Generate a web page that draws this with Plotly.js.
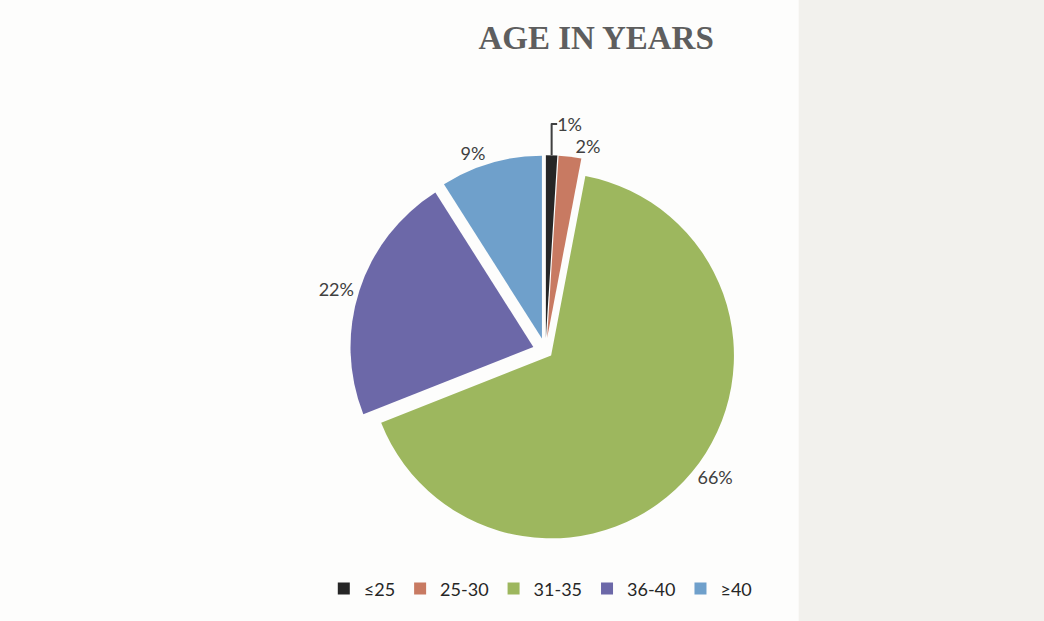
<!DOCTYPE html>
<html>
<head>
<meta charset="utf-8">
<script src="https://cdn.plot.ly/plotly-3.0.1.min.js"></script>
<style>html,body{margin:0;padding:0;background:#fff;}#chart{width:1044px;height:621px;}</style>
</head>
<body>
<div id="chart"></div>
<script>
const categories = ["≤25", "25-30", "31-35", "36-40", "≥40"];
const shares = [1, 2, 66, 22, 9];
const sliceColors = ["#262626", "#c87a62", "#9db75e", "#6c68a8", "#6fa0cb"];

const trace = {
  type: "pie",
  labels: categories,
  values: shares,
  sort: false,
  direction: "clockwise",
  rotation: 0,
  pull: [0.07, 0.07, 0.04, 0.07, 0.07],
  marker: { colors: sliceColors, line: { color: "#ffffff", width: 0 } },
  texttemplate: "%{percent:.0%}",
  textposition: "outside",
  textfont: { family: "Lato, 'Open Sans', sans-serif", size: 18, color: "#404040" },
  outsidetextfont: { family: "Lato, 'Open Sans', sans-serif", size: 18, color: "#404040" },
  hoverinfo: "label+percent",
  domain: { x: [0.30, 0.745], y: [0.12, 0.75] },
  automargin: false
};

const layout = {
  width: 1044,
  height: 621,
  margin: { l: 0, r: 0, t: 0, b: 0 },
  paper_bgcolor: "#fdfdfc",
  title: {
    text: "<b>AGE IN YEARS</b>",
    font: { family: "'Liberation Serif', 'DejaVu Serif', serif", size: 33, color: "#5e5e5e" },
    x: 0.571, xanchor: "center",
    y: 0.94, yanchor: "middle"
  },
  showlegend: true,
  legend: {
    orientation: "h",
    x: 0.518, xanchor: "center",
    y: 0.022, yanchor: "bottom",
    font: { family: "Lato, 'Open Sans', sans-serif", size: 18, color: "#262626" },
    itemwidth: 30,
    tracegroupgap: 0
  },
  shapes: [
    { type: "rect", xref: "paper", yref: "paper", x0: 0.765, x1: 1, y0: 0, y1: 1,
      fillcolor: "#f2f1ed", line: { width: 0 }, layer: "below" }
  ]
};

Plotly.newPlot("chart", [trace], layout, { displayModeBar: false, staticPlot: true });
</script>
</body>
</html>
